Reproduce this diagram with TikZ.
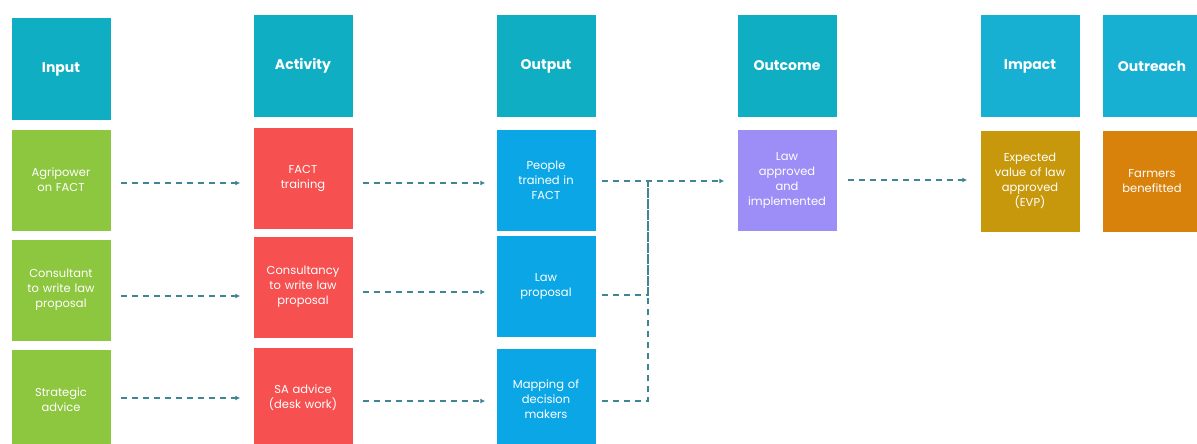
\documentclass[tikz,border=0pt]{standalone}
\usepackage{fontspec}
\setmainfont{Poppins}
\usetikzlibrary{arrows.meta}
\definecolor{headc}{HTML}{10AEC2}
\definecolor{headd}{HTML}{17AFD2}
\definecolor{greenc}{HTML}{8DC63F}
\definecolor{redc}{HTML}{F65050}
\definecolor{bluec}{HTML}{0BA6E6}
\definecolor{purplec}{HTML}{9D8EF7}
\definecolor{goldc}{HTML}{C8980C}
\definecolor{orangec}{HTML}{D8820C}
\definecolor{dashc}{HTML}{3F8596}
\tikzset{
  box/.style={rectangle, minimum width=99pt, minimum height=101pt, inner sep=0pt,
    text=white, align=center, text width=96pt, font=\fontsize{11.5}{15}\selectfont},
  head/.style={box, fill=headc, font=\bfseries\fontsize{14}{16}\selectfont},
  conn/.style={draw=dashc, line width=1.3pt, dash pattern=on 6pt off 5pt, -{Latex[length=5pt,width=5pt]}},
  link/.style={draw=dashc, line width=1.3pt, dash pattern=on 6pt off 5pt}
}
\begin{document}
\begin{tikzpicture}[x=1pt,y=-1pt]
\useasboundingbox (0,0) rectangle (1197,444);
\begin{scope}
\clip (0,0) rectangle (1197,444);
% headers
\node[head] (hin) at (61,69) {Input};
\node[head] (hact) at (303,66) {Activity};
\node[head] (hout) at (546,66) {Output};
\node[head] (hoc) at (787,66) {Outcome};
\node[head, fill=headd] (himp) at (1030,66) {Impact};
\node[head, fill=headd] (hor) at (1152,66) {Outreach};
% inputs
\node[box, fill=greenc] (i1) at (61,180) {Agripower\\on FACT};
\node[box, fill=greenc] (i2) at (61,290) {Consultant\\to write law\\proposal};
\node[box, fill=greenc] (i3) at (61,400) {Strategic\\advice};
% activities
\node[box, fill=redc] (a1) at (303,178) {FACT\\training};
\node[box, fill=redc] (a2) at (303,287) {Consultancy\\to write law\\proposal};
\node[box, fill=redc] (a3) at (303,398) {SA advice\\(desk work)};
% outputs
\node[box, fill=bluec] (o1) at (546,180) {People\\trained in\\FACT};
\node[box, fill=bluec] (o2) at (546,286) {Law\\proposal};
\node[box, fill=bluec] (o3) at (546,399) {Mapping of\\decision\\makers};
% outcome, impact, outreach
\node[box, fill=purplec] (oc) at (787,180) {Law\\approved\\and\\implemented};
\node[box, fill=goldc] (imp) at (1030,181) {Expected\\value of law\\approved\\(EVP)};
\node[box, fill=orangec] (or) at (1152,181) {Farmers\\benefitted};
\end{scope}
% connectors
\draw[conn, shorten <=10pt, shorten >=13pt] (i1.east |- 0,183) -- (a1.west |- 0,183);
\draw[conn, shorten <=10pt, shorten >=13pt] (i2.east |- 0,296) -- (a2.west |- 0,296);
\draw[conn, shorten <=10pt, shorten >=13pt] (i3.east |- 0,398) -- (a3.west |- 0,398);
\draw[conn, shorten <=10pt, shorten >=11pt] (a1.east |- 0,183) -- (o1.west |- 0,183);
\draw[conn, shorten <=10pt, shorten >=11pt] (a2.east |- 0,292) -- (o2.west |- 0,292);
\draw[conn, shorten <=10pt, shorten >=11pt] (a3.east |- 0,401) -- (o3.west |- 0,401);
\coordinate (j) at (648,181);
\draw[conn, shorten <=6pt, shorten >=13pt] (o1.east |- j) -- (oc.west |- j);
\draw[link, shorten <=6pt] (o2.east |- 0,295) -- (j |- 0,295) -- (j);
\draw[link, shorten <=6pt] (o3.east |- 0,401) -- (j |- 0,401) -- (j);
\draw[conn, shorten <=11pt, shorten >=13pt] (oc.east |- 0,180) -- (imp.west |- 0,180);
\end{tikzpicture}
\end{document}
